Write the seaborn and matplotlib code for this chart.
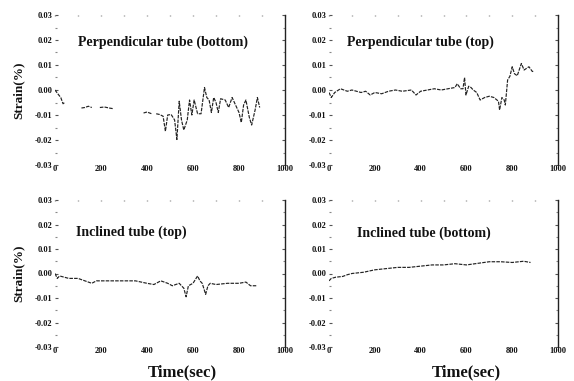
import numpy as np
import pandas as pd
import matplotlib
matplotlib.use("Agg")
import matplotlib.pyplot as plt
import seaborn as sns
from matplotlib.ticker import MultipleLocator

sns.set_theme(style="white")
plt.rcParams["font.family"] = ["Liberation Serif", "DejaVu Serif"]

# ---- data: strain (%) vs time (sec) for four gauge positions ----
# Perpendicular tube (bottom): recorded in separate segments
ptb_seg1_t = [0, 12, 25, 35, 42]
ptb_seg1_v = [0.0000, -0.0015, -0.0030, -0.0055, -0.0050]
ptb_seg2_t = [115, 130, 145, 160]
ptb_seg2_v = [-0.0072, -0.0070, -0.0065, -0.0070]
ptb_seg3_t = [195, 215, 235, 255]
ptb_seg3_v = [-0.0070, -0.0068, -0.0072, -0.0075]
ptb_seg4_t = [385, 400, 420]
ptb_seg4_v = [-0.0092, -0.0088, -0.0095]
ptb_seg5_t = [440, 455, 470, 480, 490, 505, 520, 530, 540, 550, 560, 575,
              585, 595, 605, 620, 635, 650, 660, 670, 680, 690, 700, 710,
              720, 740, 755, 770, 790, 800, 810, 820, 830, 845, 855, 870,
              880, 890]
ptb_seg5_v = [-0.0095, -0.0098, -0.0105, -0.0165, -0.0100, -0.0098, -0.0120,
              -0.0198, -0.0045, -0.0120, -0.0160, -0.0120, -0.0040, -0.0100,
              -0.0040, -0.0095, -0.0095, 0.0010, -0.0030, -0.0040, -0.0090,
              -0.0030, -0.0050, -0.0090, -0.0035, -0.0040, -0.0070, -0.0030,
              -0.0070, -0.0090, -0.0130, -0.0060, -0.0040, -0.0110, -0.0140,
              -0.0080, -0.0030, -0.0070]

# Perpendicular tube (top)
ptt_t = [0, 10, 25, 50, 80, 100, 120, 140, 160, 180, 200, 230, 260, 290, 320,
         360, 380, 400, 430, 460, 490, 520, 550, 560, 575, 585, 592, 598, 610,
         620, 630, 645, 660, 680, 700, 720, 740, 745, 755, 765, 770, 775, 780,
         790, 800, 810, 822, 840, 852, 873, 888, 895]
ptt_v = [-0.0010, -0.0030, -0.0010, 0.0005, -0.0005, 0.0000, -0.0005, -0.0010,
         -0.0005, -0.0020, -0.0010, -0.0015, -0.0005, 0.0000, -0.0005, 0.0000,
         -0.0020, -0.0005, 0.0000, 0.0005, 0.0000, 0.0005, 0.0010, 0.0025,
         0.0005, 0.0005, 0.0050, -0.0020, 0.0015, 0.0010, 0.0000, -0.0010,
         -0.0040, -0.0030, -0.0025, -0.0030, -0.0045, -0.0080, -0.0030,
         -0.0040, -0.0060, -0.0010, 0.0040, 0.0055, 0.0093, 0.0065, 0.0057,
         0.0106, 0.0080, 0.0093, 0.0074, 0.0075]

# Inclined tube (top)
itt_t = [0, 10, 20, 40, 60, 100, 130, 160, 180, 230, 300, 350, 400, 430, 460,
         490, 510, 540, 560, 570, 580, 600, 620, 630, 640, 655, 665, 675, 700,
         750, 800, 830, 850, 875]
itt_v = [0.0000, -0.0020, -0.0010, -0.0015, -0.0020, -0.0020, -0.0030,
         -0.0040, -0.0030, -0.0030, -0.0030, -0.0030, -0.0040, -0.0045,
         -0.0030, -0.0040, -0.0050, -0.0040, -0.0060, -0.0095, -0.0050,
         -0.0040, -0.0010, -0.0030, -0.0040, -0.0085, -0.0050, -0.0040,
         -0.0045, -0.0040, -0.0040, -0.0035, -0.0050, -0.0050]

# Inclined tube (bottom)
itb_t = [0, 10, 30, 60, 80, 100, 150, 200, 250, 300, 350, 400, 450, 500, 550,
         600, 700, 750, 800, 850, 880]
itb_v = [-0.0030, -0.0020, -0.0015, -0.0012, -0.0005, 0.0000, 0.0005, 0.0015,
         0.0020, 0.0025, 0.0025, 0.0030, 0.0035, 0.0035, 0.0040, 0.0035,
         0.0048, 0.0048, 0.0045, 0.0050, 0.0045]

titles = ["Perpendicular tube (bottom)", "Perpendicular tube (top)",
          "Inclined tube (top)", "Inclined tube (bottom)"]
x_ticks = [0, 200, 400, 600, 800, 1000]
y_ticks = [-0.03, -0.02, -0.01, 0.00, 0.01, 0.02, 0.03]
y_ticklabels = ["-0.03", "-0.02", "-0.01", "0.00", "0.01", "0.02", "0.03"]


def frame(segments):
    parts = []
    for k, (t, v) in enumerate(segments):
        parts.append(pd.DataFrame({"time": t, "strain": v, "seg": k}))
    return pd.concat(parts, ignore_index=True)


panels = [
    frame([(ptb_seg1_t, ptb_seg1_v), (ptb_seg2_t, ptb_seg2_v),
           (ptb_seg3_t, ptb_seg3_v), (ptb_seg4_t, ptb_seg4_v),
           (ptb_seg5_t, ptb_seg5_v)]),
    frame([(ptt_t, ptt_v)]),
    frame([(itt_t, itt_v)]),
    frame([(itb_t, itb_v)]),
]

W, H = 574, 381
fig = plt.figure(figsize=(W / 100, H / 100), dpi=100)
fig.patch.set_facecolor("white")

# axes boxes in pixels: (left, top, right, bottom)
boxes = [(55, 15, 285, 165), (329, 15, 558, 165),
         (55, 200, 285, 347), (329, 200, 558, 347)]
title_pos = [(100, 0.019), (80, 0.019), (92, 0.017), (122, 0.0166)]
xlabel_x = [None, None, 0.552, 0.598]

ink = "#111111"
for i, (df, box) in enumerate(zip(panels, boxes)):
    l, t, r, b = box
    ax = fig.add_axes([l / W, 1 - b / H, (r - l) / W, (b - t) / H])
    ax.set_facecolor("white")
    sns.lineplot(data=df, x="time", y="strain", units="seg", estimator=None,
                 color="#222222", lw=0.85, ax=ax, legend=False,
                 dashes=False)
    for line in ax.get_lines():
        line.set_dashes((3.0, 1.0))
    ax.set_xlim(0, 1000)
    ax.set_ylim(-0.03, 0.03)
    ax.set_xticks(x_ticks)
    ax.set_xticklabels([str(v) for v in x_ticks])
    ax.set_yticks(y_ticks)
    ax.set_yticklabels(y_ticklabels)
    ax.xaxis.set_minor_locator(MultipleLocator(100))
    ax.yaxis.set_minor_locator(MultipleLocator(0.005))
    for side in ["left", "top", "bottom"]:
        ax.spines[side].set_visible(False)
    ax.spines["right"].set_color("#222222")
    ax.spines["right"].set_linewidth(1.0)
    ax.tick_params(axis="x", which="both", bottom=False, top=True,
                   direction="in", length=1.0, width=1.0, color="#888888",
                   labelsize=6, pad=0, labelcolor=ink)
    ax.tick_params(axis="y", which="major", left=True, right=True,
                   direction="in", length=2, width=0.8, color="#555555",
                   labelsize=6, pad=2, labelcolor=ink)
    ax.tick_params(axis="y", which="minor", left=True, right=True,
                   direction="in", length=1.2, width=0.8, color="#888888")
    for lab in ax.get_xticklabels() + ax.get_yticklabels():
        lab.set_fontweight("bold")
    ax.text(title_pos[i][0], title_pos[i][1], titles[i], fontsize=10,
            fontweight="bold", color=ink, ha="left", va="center")
    if i in (0, 2):
        ax.set_ylabel("Strain(%)", fontsize=9.5, fontweight="bold",
                      color=ink)
        ax.yaxis.set_label_coords(-30 / (r - l), 0.5)
    else:
        ax.set_ylabel("")
    if i in (2, 3):
        ax.set_xlabel("Time(sec)", fontsize=12, fontweight="bold",
                      color=ink)
        ax.xaxis.set_label_coords(xlabel_x[i], -0.12)
    else:
        ax.set_xlabel("")

fig.savefig("out.png", dpi=100, facecolor="white")
